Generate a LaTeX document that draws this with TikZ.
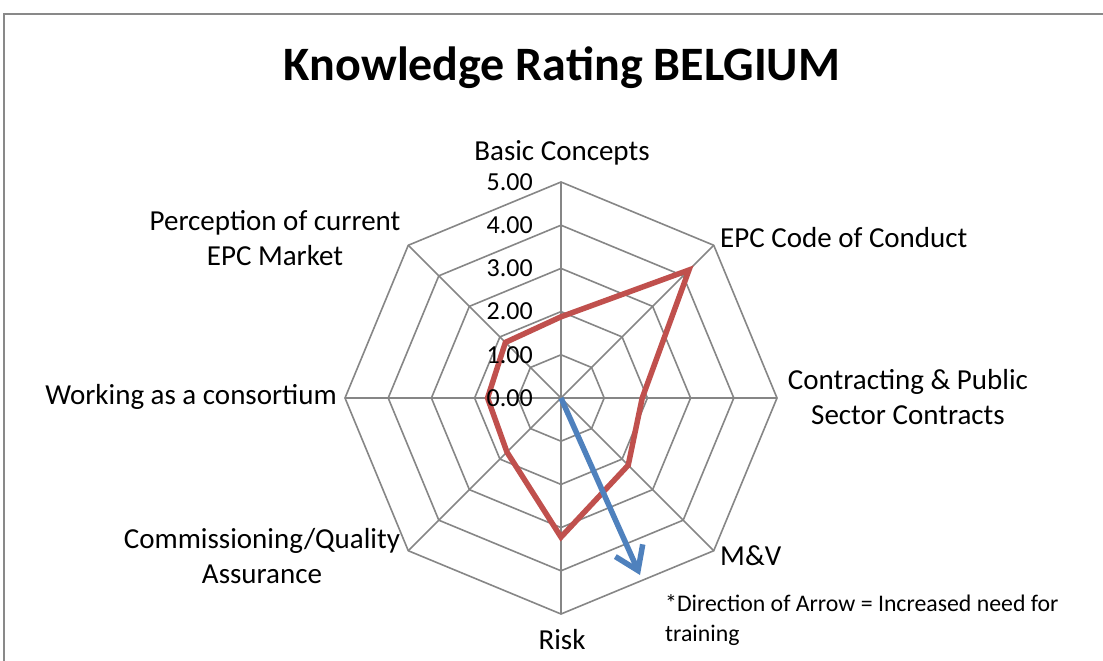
\documentclass[tikz,border=0pt]{standalone}
\usepackage{fontspec}
\setmainfont{Carlito}
\usetikzlibrary{arrows.meta}
\definecolor{gridgray}{HTML}{868686}
\definecolor{framegray}{HTML}{898989}
\definecolor{datared}{HTML}{C0504D}
\definecolor{arrowblue}{HTML}{4F81BD}
\tikzset{
  grid/.style={draw=gridgray, line width=1.6pt},
  frame/.style={draw=framegray, line width=1.5pt},
  series/.style={draw=datared, line width=5.5pt, line join=miter},
  trend/.style={draw=arrowblue, line width=5.5pt, -{Straight Barb[length=22pt,width=30pt,line width=5.5pt]}},
  axlabel/.style={font=\fontsize{29}{35}\selectfont, inner sep=0pt, align=center},
  ticklabel/.style={font=\fontsize{26}{30}\selectfont, inner sep=0pt, anchor=east},
  title/.style={font=\fontsize{48}{56}\selectfont\bfseries, inner sep=0pt},
  note/.style={font=\fontsize{23.8}{30}\selectfont, inner sep=0pt, align=left, anchor=north west}
}
\begin{document}
\begin{tikzpicture}[x=1pt,y=-1pt]
\useasboundingbox (0,0) rectangle (1103,661);
\fill[white] (0,0) rectangle (1103,661);
\begin{scope}
\clip (0,0) rectangle (1103,661);
\draw[frame] (4,14) rectangle (1130,690);
\end{scope}
\node[title] (ttl) at (562,68) {Knowledge Rating BELGIUM};
\begin{scope}[shift={(561,398)}, yscale=-1]
  \coordinate (c0) at (0,0);
  \foreach \k in {1,...,5} {
    \pgfmathsetmacro{\r}{43.2*\k}
    \draw[grid] (90:\r) \foreach \a in {45,0,-45,-90,-135,-180,-225} {-- (\a:\r)} -- cycle;
  }
  \foreach \a in {90,45,0,-45,-90,-135,-180,-225}
    \draw[grid] (c0) -- (\a:216);
  \coordinate (p1) at (90:{43.2*1.88});
  \coordinate (p2) at (45:{43.2*4.19});
  \coordinate (p3) at (0:{43.2*1.88});
  \coordinate (p4) at (-45:{43.2*2.2});
  \coordinate (p5) at (-90:{43.2*3.22});
  \coordinate (p6) at (-135:{43.2*1.77});
  \coordinate (p7) at (180:{43.2*1.7});
  \coordinate (p8) at (135:{43.2*1.82});
  \draw[series] (p1) -- (p2) -- (p3) -- (p4) -- (p5) -- (p6) -- (p7) -- (p8) -- cycle;
\end{scope}
\foreach \k in {0,...,5}
  \node[ticklabel] (t\k) at (533,{398-43.2*\k}) {\k.00};
\coordinate (tip) at (640,575);
\draw[trend] (c0) -- (tip);
\node[axlabel] (l1) at (562,153) {Basic Concepts};
\node[axlabel, anchor=west] (l2) at (720,238) {EPC Code of Conduct};
\node[axlabel] (l3) at (908,397) {Contracting \& Public\\Sector Contracts};
\node[axlabel, anchor=west] (l4) at (720,556) {M\&V};
\node[axlabel] (l5) at (562,640) {Risk};
\node[axlabel] (l6) at (262,556) {Commissioning/Quality\\Assurance};
\node[axlabel, anchor=east] (l7) at (337,397) {Working as a consortium};
\node[axlabel] (l8) at (275,238) {Perception of current\\EPC Market};
\node[note] (nt) at (665,594) {*Direction of Arrow = Increased need for\\training};
\end{tikzpicture}
\end{document}
